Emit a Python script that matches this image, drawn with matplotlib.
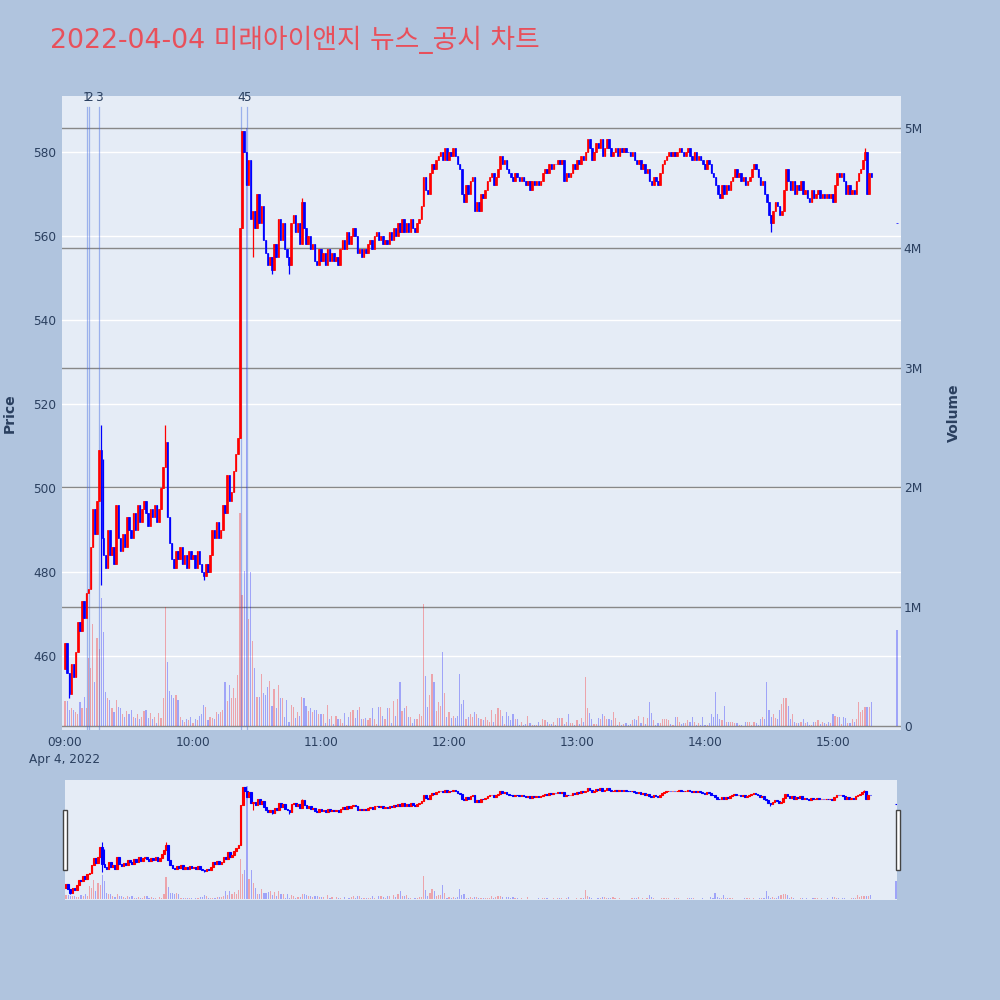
import numpy as np
import matplotlib
matplotlib.use("Agg")
import matplotlib.pyplot as plt
from matplotlib.patches import Rectangle
import matplotlib.transforms as mtransforms

plt.rcParams['font.family'] = ['DejaVu Sans', 'Noto Sans CJK KR']

TITLE = '2022-04-04 미래아이앤지 뉴스_공시 차트'

# ---- 1-minute candles from 09:00 (minute 0) to 15:18, then the 15:30 close print
open_first = 457
close_px = [
    463, 456, 451, 458, 455, 461, 468, 466, 473, 469,
    475, 476, 486, 495, 489, 497, 509, 488, 484, 481,
    490, 484, 486, 482, 496, 488, 485, 489, 486, 493,
    490, 488, 494, 490, 496, 492, 495, 497, 494, 491,
    495, 493, 496, 492, 495, 500, 505, 511, 493, 487,
    483, 481, 485, 483, 486, 482, 484, 481, 485, 483,
    484, 481, 485, 482, 480, 479, 482, 480, 484, 490,
    488, 492, 488, 490, 496, 494, 503, 497, 499, 504,
    508, 512, 562, 585, 580, 572, 578, 564, 566, 562,
    570, 563, 567, 559, 556, 553, 555, 552, 558, 555,
    564, 559, 563, 557, 555, 553, 563, 565, 561, 563,
    558, 568, 562, 558, 560, 557, 558, 554, 553, 557,
    554, 556, 553, 557, 554, 556, 554, 555, 553, 557,
    559, 557, 561, 558, 560, 562, 560, 556, 557, 555,
    557, 556, 558, 559, 557, 560, 561, 559, 560, 558,
    559, 558, 561, 559, 562, 560, 563, 561, 564, 561,
    563, 561, 564, 562, 561, 563, 564, 567, 574, 571,
    570, 575, 577, 576, 578, 579, 580, 578, 581, 578,
    580, 579, 581, 579, 577, 576, 570, 568, 572, 570,
    573, 574, 566, 568, 566, 570, 569, 571, 573, 574,
    575, 572, 574, 576, 579, 577, 578, 576, 575, 574,
    573, 575, 574, 573, 574, 573, 572, 573, 571, 573,
    572, 573, 572, 573, 575, 576, 575, 577, 576, 577,
    577, 578, 577, 578, 573, 575, 574, 575, 577, 576,
    578, 577, 579, 578, 580, 583, 581, 578, 580, 582,
    581, 583, 579, 581, 583, 581, 579, 580, 581, 579,
    581, 580, 581, 580, 580, 579, 580, 578, 577, 578,
    576, 577, 575, 576, 573, 572, 574, 573, 572, 575,
    577, 578, 579, 580, 579, 580, 579, 580, 581, 580,
    579, 580, 581, 579, 578, 580, 578, 579, 578, 577,
    576, 578, 577, 575, 574, 572, 570, 569, 572, 570,
    572, 571, 573, 574, 576, 574, 575, 573, 574, 572,
    573, 574, 576, 577, 576, 574, 572, 573, 570, 568,
    565, 563, 566, 568, 567, 565, 566, 571, 576, 573,
    571, 573, 570, 572, 571, 573, 570, 571, 569, 568,
    571, 569, 570, 571, 569, 570, 569, 570, 569, 570,
    568, 572, 575, 574, 575, 573, 570, 572, 570, 571,
    570, 573, 575, 576, 578, 580, 570, 575, 574,
]
closing_minute = 390
closing_px = 563

# visible wicks beyond the body (minute -> price)
wick_hi = {17: 515, 18: 507, 47: 515, 83: 585, 111: 569, 375: 581}
wick_lo = {2: 450, 17: 477, 65: 478, 88: 555, 97: 551, 105: 551, 331: 561}

# volume in millions of shares, same minutes as close_px
volume_m = [
    0.21, 0.21, 0.14, 0.15, 0.14, 0.12, 0.10, 0.20, 0.15, 0.25,
    0.15, 0.57, 0.49, 0.86, 0.37, 0.74, 0.65, 1.07, 0.79, 0.29,
    0.24, 0.22, 0.15, 0.12, 0.22, 0.16, 0.15, 0.10, 0.08, 0.13,
    0.10, 0.14, 0.08, 0.07, 0.10, 0.06, 0.08, 0.13, 0.14, 0.07,
    0.11, 0.06, 0.08, 0.03, 0.11, 0.07, 0.24, 1.00, 0.54, 0.30,
    0.26, 0.24, 0.26, 0.22, 0.08, 0.05, 0.04, 0.06, 0.05, 0.08,
    0.03, 0.06, 0.05, 0.09, 0.10, 0.18, 0.16, 0.05, 0.08, 0.07,
    0.06, 0.12, 0.10, 0.12, 0.14, 0.37, 0.21, 0.35, 0.24, 0.32,
    0.24, 0.43, 1.78, 1.10, 1.30, 5.00, 0.90, 1.29, 0.71,
    0.49, 0.25, 0.25, 0.44, 0.28, 0.26, 0.33, 0.38, 0.17, 0.31,
    0.15, 0.35, 0.24, 0.24, 0.08, 0.22, 0.04, 0.18, 0.16, 0.07,
    0.12, 0.09, 0.25, 0.24, 0.17, 0.13, 0.15, 0.12, 0.14, 0.14,
    0.10, 0.10, 0.10, 0.03, 0.18, 0.06, 0.09, 0.02, 0.09, 0.06,
    0.06, 0.03, 0.11, 0.01, 0.08, 0.12, 0.14, 0.07, 0.14, 0.16,
    0.06, 0.06, 0.07, 0.05, 0.07, 0.15, 0.06, 0.02, 0.16, 0.16,
    0.09, 0.06, 0.15, 0.15, 0.03, 0.21, 0.09, 0.23, 0.37, 0.13,
    0.15, 0.17, 0.08, 0.08, 0.03, 0.06, 0.06, 0.10, 0.09, 1.02,
    0.42, 0.16, 0.26, 0.44, 0.37, 0.13, 0.20, 0.17, 0.62, 0.28,
    0.08, 0.12, 0.07, 0.09, 0.07, 0.09, 0.44, 0.19, 0.22, 0.06,
    0.08, 0.10, 0.08, 0.12, 0.10, 0.07, 0.06, 0.05, 0.08, 0.05,
    0.04, 0.14, 0.04, 0.10, 0.15, 0.14, 0.09, 0.02, 0.12, 0.09,
    0.05, 0.10, 0.06, 0.06, 0.01, 0.04, 0.01, 0.02, 0.09, 0.03,
    0.01, 0.01, 0.01, 0.04, 0.01, 0.06, 0.05, 0.04, 0.02, 0.02,
    0.04, 0.01, 0.07, 0.07, 0.07,
    0.02, 0.04, 0.10, 0.03, 0.03, 0.01, 0.05, 0.02, 0.07, 0.04,
    0.41, 0.15, 0.11, 0.06, 0.02, 0.02, 0.07, 0.06, 0.10, 0.09,
    0.06, 0.06, 0.05, 0.12, 0.07, 0.01, 0.04, 0.01, 0.02, 0.03,
    0.01, 0.02, 0.05, 0.06, 0.05, 0.09, 0.03, 0.08, 0.02, 0.07,
    0.20, 0.11, 0.05, 0.01, 0.03, 0.03, 0.06, 0.06, 0.06, 0.05,
    0.02, 0.01, 0.08, 0.08, 0.04, 0.02, 0.03, 0.03, 0.05, 0.04,
    0.08, 0.04, 0.01, 0.03, 0.01, 0.08, 0.01, 0.01, 0.03, 0.10,
    0.08, 0.29, 0.10, 0.06, 0.05, 0.17, 0.04, 0.04, 0.04, 0.04,
    0.03, 0.03, 0.01, 0.01, 0.005, 0.04, 0.04, 0.04, 0.01, 0.04,
    0.03, 0.01, 0.06, 0.08, 0.06, 0.37, 0.14, 0.08, 0.10, 0.07,
    0.06, 0.14, 0.19, 0.24, 0.24, 0.17, 0.06, 0.10, 0.04, 0.03,
    0.03, 0.04, 0.06, 0.03, 0.04, 0.01, 0.01, 0.04, 0.04, 0.05,
    0.02, 0.04, 0.03, 0.02, 0.04, 0.03, 0.10, 0.09, 0.08, 0.08,
    0.02, 0.08, 0.07, 0.03, 0.03, 0.06, 0.04, 0.06, 0.20, 0.12,
    0.14, 0.16, 0.16, 0.16, 0.20,
]
closing_vol_m = 0.81

# news / disclosure times
news_times = ['09:10:12', '09:11:24', '09:16:06', '10:22:30', '10:25:18']
news_labels = ['1', '2', '3', '4', '5']

tick_min = [0, 60, 120, 180, 240, 300, 360]
tick_text = ['09:00\nApr 4, 2022', '10:00', '11:00', '12:00', '13:00', '14:00', '15:00']

UP, DOWN = '#ff0000', '#0000ff'
BG, PAPER, FG = '#e5ecf6', '#b0c4de', '#2a3f5f'

# ---- assemble OHLC
xs = np.append(np.arange(len(close_px)), closing_minute).astype(float)
c = np.array(close_px + [closing_px], float)
o = np.array([open_first] + close_px[:-1] + [closing_px], float)
hi = np.maximum(o, c)
lo = np.minimum(o, c)
for k, v in wick_hi.items():
    hi[k] = max(hi[k], v)
for k, v in wick_lo.items():
    lo[k] = min(lo[k], v)
vol = np.array(volume_m + [closing_vol_m])
up = c > o
cols = np.where(up, UP, DOWN)


def to_min(t):
    h, m, s = (int(p) for p in t.split(':'))
    return h * 60 + m + s / 60 - 540


news_x = [to_min(t) for t in news_times]

PRICE_LIM = (442.4, 593.3)
VOL_LIM = (-0.03, 5.27)


def draw_candles(ax, width, body_lw, wick_lw):
    ax.vlines(xs, lo, hi, colors=cols, linewidth=wick_lw, zorder=3)
    ax.bar(xs, np.abs(c - o), bottom=np.minimum(o, c), width=width,
           color=cols, edgecolor=cols, linewidth=body_lw, zorder=4)


def draw_volume(ax):
    ax.bar(xs, vol, width=0.55, color=cols, alpha=0.3, linewidth=0, zorder=2)


fig = plt.figure(figsize=(10, 10), dpi=100, facecolor=PAPER)
fig.text(0.05, 0.96, TITLE, fontsize=19.3, color='#e8505b', va='center', ha='left')

rect = [0.062, 0.270, 0.839, 0.634]
# bottom layer: background + price grid + price ticks
ax_bg = fig.add_axes(rect, facecolor=BG)
ax_bg.set_xlim(-1.41, 391.9)
ax_bg.set_ylim(*PRICE_LIM)
ax_bg.set_yticks(np.arange(460, 581, 20))
ax_bg.grid(axis='y', color='white', linewidth=1)
ax_bg.set_axisbelow(True)
ax_bg.set_xticks(tick_min)
ax_bg.set_xticklabels(tick_text, linespacing=1.4)
ax_bg.tick_params(length=0, labelsize=8.7, colors=FG, pad=4)
ax_bg.set_ylabel('Price', fontsize=10.1, fontweight='bold', color=FG, labelpad=12)

# middle layer: volume bars, volume grid, news markers
ax_v = fig.add_axes(rect, sharex=ax_bg)
ax_v.patch.set_visible(False)
ax_v.set_ylim(*VOL_LIM)
ax_v.yaxis.tick_right()
ax_v.yaxis.set_label_position('right')
ax_v.set_yticks([0, 1, 2, 3, 4, 5])
ax_v.set_yticklabels(['0', '1M', '2M', '3M', '4M', '5M'])
ax_v.grid(axis='y', color='#888888', linewidth=1)
ax_v.set_axisbelow(True)
ax_v.tick_params(axis='y', length=0, labelsize=8.7, colors=FG, pad=2)
ax_v.tick_params(axis='x', bottom=False, labelbottom=False)
ax_v.set_ylabel('Volume', fontsize=10.1, fontweight='bold', color=FG, labelpad=18)
draw_volume(ax_v)
trans = mtransforms.blended_transform_factory(ax_v.transData, ax_v.transAxes)
for nx, lab in zip(news_x, news_labels):
    ax_v.plot([nx, nx], [0, 0.983], transform=trans, color='royalblue',
              alpha=0.45, linewidth=0.9, zorder=3)
    ax_v.text(nx, 0.998, lab, transform=trans, ha='center', va='center',
              fontsize=8.7, color=FG, clip_on=False)

# top layer: candles
ax_c = fig.add_axes(rect, sharex=ax_bg, sharey=ax_bg)
ax_c.patch.set_visible(False)
ax_c.axis('off')
draw_candles(ax_c, width=0.7, body_lw=0.5, wick_lw=0.9)

for a in (ax_bg, ax_v):
    for s in a.spines.values():
        s.set_visible(False)

# ---- range slider
rs_rect = [0.065, 0.100, 0.832, 0.120]
rs = fig.add_axes(rs_rect, facecolor=BG)
rs.set_xlim(-0.5, 390.5)
rs.set_ylim(*PRICE_LIM)
rs_v = rs.twinx()
rs_v.set_ylim(*VOL_LIM)
draw_volume(rs_v)
rs.set_zorder(rs_v.get_zorder() + 1)
rs.patch.set_visible(False)
rs_v.patch.set_visible(True)
rs_v.patch.set_facecolor(BG)
draw_candles(rs, width=0.8, body_lw=0.8, wick_lw=0.8)
for a in (rs, rs_v):
    a.set_xticks([])
    a.set_yticks([])
    for s in a.spines.values():
        s.set_visible(False)

for hx in (0.0625, 0.8955):
    fig.patches.append(Rectangle((hx, 0.130), 0.004, 0.060, transform=fig.transFigure,
                                 facecolor='white', edgecolor='#444444', linewidth=1))

fig.savefig('out.png', dpi=100, facecolor=PAPER)
